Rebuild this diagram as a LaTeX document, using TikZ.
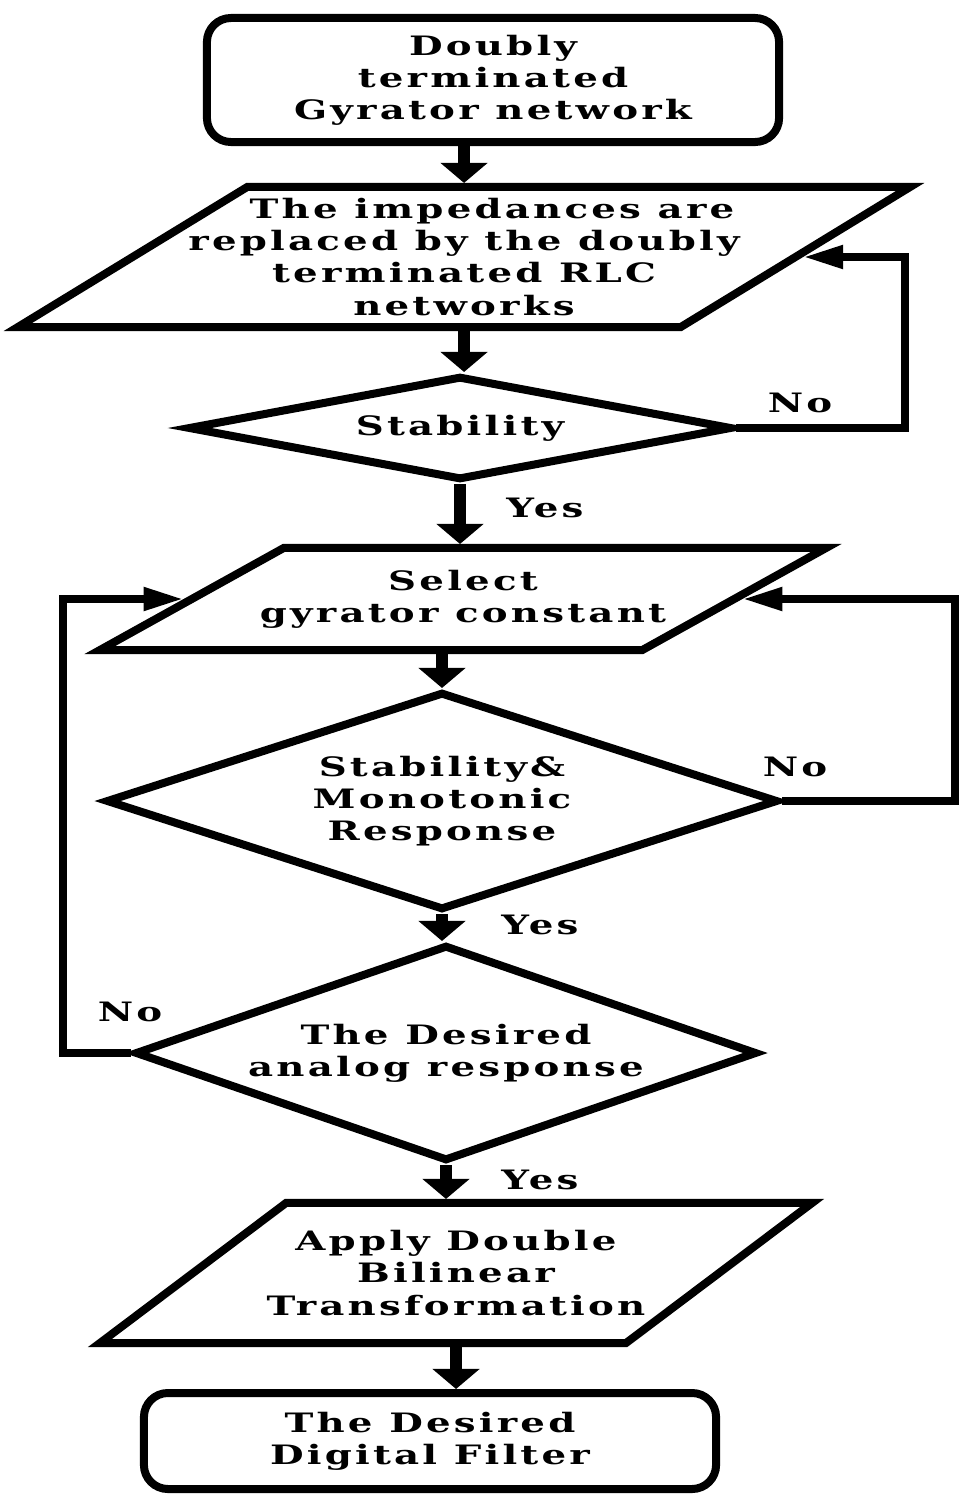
\documentclass[tikz,border=0pt]{standalone}
\usepackage{fontspec}
\setmainfont{DejaVu Serif}[FakeStretch=1.45,LetterSpace=12]
\usetikzlibrary{shapes.geometric,arrows.meta}

\newcommand{\chartsize}{\fontsize{19}{22.8}\selectfont}

\tikzset{
  startstop/.style={draw, line width=0.2cm, rounded corners=0.6cm, align=center, inner sep=0pt},
  io/.style={draw, trapezium, trapezium stretches body, line width=0.2cm, align=center,
    inner ysep=0pt, inner xsep=-2cm},
  decision/.style={draw, diamond, line width=0.2cm, align=center, inner sep=0pt},
  flow/.style={line width=0.3cm, -{Triangle[width=1.15cm,length=0.5cm]}},
  back/.style={line width=0.2cm, -{Triangle[width=0.55cm,length=1cm]}}
}

\begin{document}
\begin{tikzpicture}[x=0.025cm, y=-0.025cm, font=\bfseries\chartsize]
    \useasboundingbox (0,0) rectangle (959,1501);

    % Blocks of the flow
    \node[startstop, minimum width=14.3cm, minimum height=3.1cm] (gyr) at (493,80) {Doubly\\terminated\\Gyrator network};
    \node[io, trapezium left angle=27, trapezium right angle=153,
        minimum width=22.3cm, minimum height=3.5cm] (rlc) at (464,257)
        {\hspace*{1.4cm}The impedances are\\replaced by the doubly\\terminated RLC\\networks};
    \node[decision, aspect=5.3, minimum width=13.6cm, minimum height=2.6cm] (stab) at (460,428) {Stability};
    \node[io, trapezium left angle=17.6, trapezium right angle=162.4,
        minimum width=18.15cm, minimum height=2.55cm] (sel) at (463,599)
        {Select\\gyrator constant};
    \node[decision, aspect=3.1, minimum width=16.8cm, minimum height=5.45cm] (mono) at (442,801)
        {Stability\&\\Monotonic\\Response};
    \node[decision, aspect=2.9, minimum width=15.55cm, minimum height=5.4cm] (ana) at (446,1053)
        {The Desired\\analog response};
    \node[io, trapezium left angle=24.5, trapezium right angle=155.5,
        minimum width=17.8cm, minimum height=3.5cm] (dbt) at (456,1273)
        {Apply Double\\Bilinear\\Transformation};
    \node[startstop, minimum width=14.3cm, minimum height=2.4cm] (dig) at (430,1441) {The Desired\\Digital Filter};

    % Main path
    \draw[flow] (rlc.north |- gyr.south) -- (rlc.north);
    \draw[flow] (rlc.south) -- (rlc.south |- stab.north);
    \draw[flow] (stab.south) -- (stab.south |- sel.north);
    \draw[flow] (mono.north |- sel.south) -- (mono.north);
    \draw[flow] (mono.south) -- (mono.south |- ana.north);
    \draw[flow] (ana.south) -- (ana.south |- dbt.north);
    \draw[flow] (dbt.south) -- (dbt.south |- dig.north);

    % Loops back
    \coordinate (r1) at (905,428);
    \coordinate (r2) at (955,801);
    \coordinate (l3) at (63,1053);
    \draw[back] (stab.east) -- (r1) |- (rlc.east);
    \draw[back] (mono.east) -- (r2) |- (sel.east);
    \draw[back] (ana.west) -- (l3) |- (sel.west);

    % Answers
    \node (no1) at (800,403) {No};
    \node (no2) at (795,767) {No};
    \node (no3) at (130,1012) {No};
    \node (yes1) at (545,508) {Yes};
    \node (yes2) at (540,925) {Yes};
    \node (yes3) at (540,1180) {Yes};
\end{tikzpicture}
\end{document}
